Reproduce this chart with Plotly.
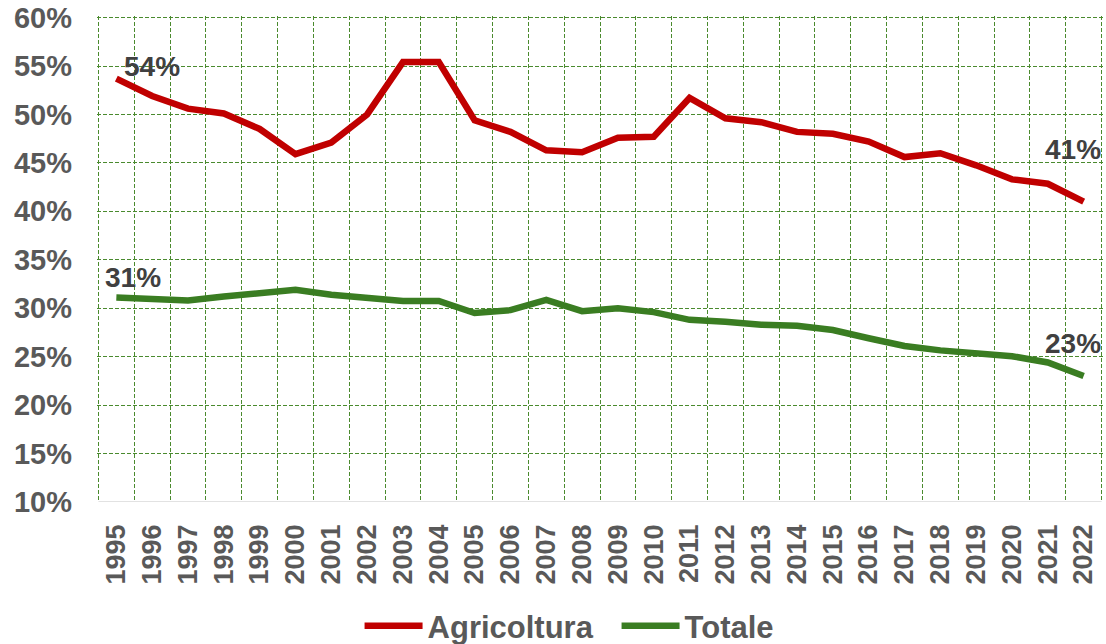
import plotly.graph_objects as go

years = [str(y) for y in range(1995, 2023)]
agricoltura = [53.7, 51.9, 50.6, 50.1, 48.5, 45.9, 47.1, 50.0, 55.4, 55.4,
               49.4, 48.2, 46.3, 46.1, 47.6, 47.7, 51.7, 49.6, 49.2, 48.2,
               48.0, 47.2, 45.6, 46.0, 44.75, 43.3, 42.85, 41.0]
totale = [31.1, 30.9, 30.8, 31.2, 31.6, 31.9, 31.4, 31.0, 30.75, 30.75,
          29.5, 29.8, 30.85, 29.7, 30.0, 29.6, 28.8, 28.6, 28.3, 28.2,
          27.75, 26.9, 26.1, 25.65, 25.3, 25.05, 24.4, 23.0]
y_ticks = [10, 15, 20, 25, 30, 35, 40, 45, 50, 55, 60]

RED = "#C00000"
GREEN = "#3A7D22"
GRID = "#4A8A2E"
FONT = "Arial, Liberation Sans, sans-serif"

fig = go.Figure()
fig.add_trace(go.Scatter(x=years, y=agricoltura, mode="lines", name="Agricoltura",
                         line=dict(color=RED, width=6.5)))
fig.add_trace(go.Scatter(x=years, y=totale, mode="lines", name="Totale",
                         line=dict(color=GREEN, width=6.5)))

lab_font = dict(family=FONT, size=28, color="#404040", weight=700)
last = len(years) - 1
fig.add_annotation(x=0, y=agricoltura[0], text=f"{round(agricoltura[0])}%",
                   showarrow=False, xanchor="left", yanchor="middle",
                   xshift=6, yshift=12, font=lab_font)
fig.add_annotation(x=last, y=agricoltura[-1], text=f"{round(agricoltura[-1])}%",
                   showarrow=False, xanchor="right", yanchor="middle",
                   xshift=19, yshift=52, font=lab_font)
fig.add_annotation(x=0, y=totale[0], text=f"{round(totale[0])}%",
                   showarrow=False, xanchor="left", yanchor="middle",
                   xshift=-13, yshift=20, font=lab_font)
fig.add_annotation(x=last, y=totale[-1], text=f"{round(totale[-1])}%",
                   showarrow=False, xanchor="right", yanchor="middle",
                   xshift=19, yshift=33, font=lab_font)

fig.update_layout(
    width=1106, height=644,
    margin=dict(l=97, r=3, t=16, b=142, autoexpand=False),
    paper_bgcolor="white", plot_bgcolor="white",
    showlegend=True,
    legend=dict(orientation="h", x=0.261, xanchor="left", y=-0.2, yanchor="top",
                font=dict(family=FONT, size=31, color="#595959", weight=700),
                itemwidth=58, traceorder="normal", entrywidth=184,
                bgcolor="rgba(0,0,0,0)"),
    xaxis=dict(type="category", range=[-0.54, 27.54], tickson="boundaries",
               automargin=False, ticklabeloverflow="allow",
               showgrid=True, gridcolor=GRID, griddash="4px,2px", gridwidth=1,
               showline=False,
               ticks="", tickangle=-90, ticklabelstandoff=16,
               tickfont=dict(family=FONT, size=27, color="#595959", weight=700),
               zeroline=False),
    yaxis=dict(range=[10, 60.16], tickvals=y_ticks, ticktext=[f"{v}%" for v in y_ticks],
               automargin=False, ticklabeloverflow="allow",
               showgrid=True, gridcolor=GRID, griddash="4px,2px", gridwidth=1,
               zeroline=False, showline=False, ticks="", ticklabelstandoff=24,
               tickfont=dict(family=FONT, size=29, color="#595959", weight=700)),
)
# bottom category axis line (light grey) spanning the category area
fig.add_shape(type="line", xref="x", yref="y", x0=-0.5, x1=27.5, y0=10, y1=10,
              line=dict(color="#D9D9D9", width=1.5), layer="above")

# remove the default 8px page margin so the 1106x644 figure fills the window exactly
fig.write_html("out.html",
               config={"displayModeBar": False},
               post_script="document.body.style.margin='0';document.body.style.overflow='hidden';")
